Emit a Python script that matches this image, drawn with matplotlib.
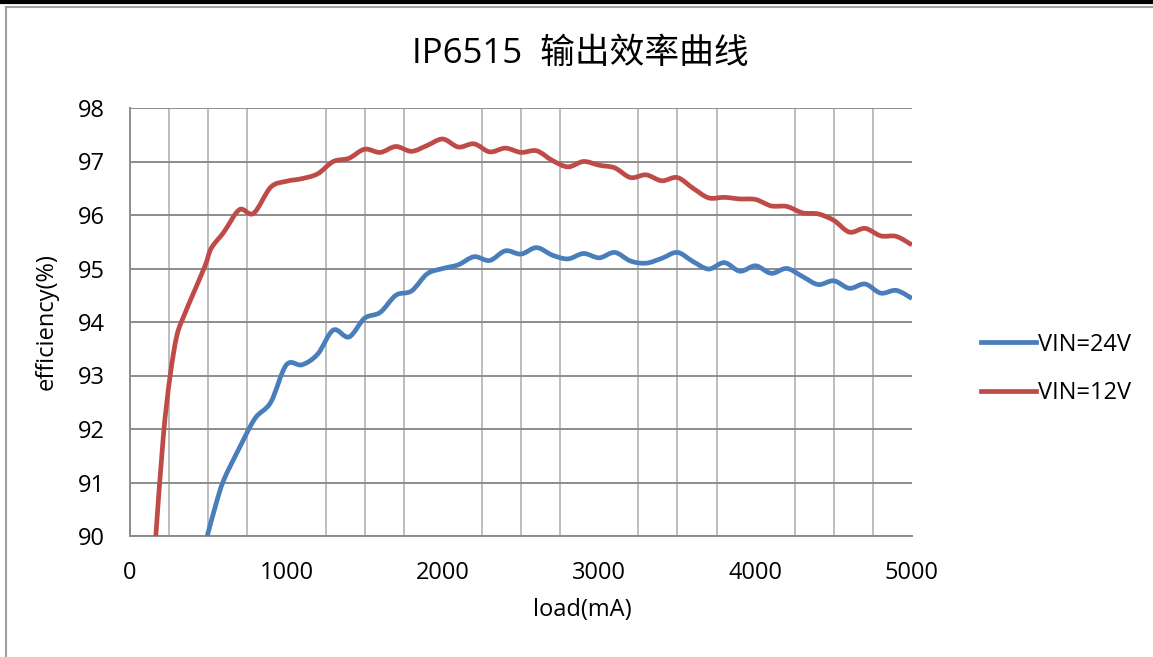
import numpy as np
import matplotlib
matplotlib.use('Agg')
import matplotlib.pyplot as plt
from matplotlib.path import Path
from matplotlib.patches import PathPatch
from matplotlib.lines import Line2D

plt.rcParams['font.family'] = ['Open Sans', 'Noto Sans CJK SC', 'DejaVu Sans']

# VIN=12V curve
load_12v = [165, 213, 256, 300, 350, 400, 480, 520, 600, 700, 790, 900, 1000,
            1100, 1200, 1300, 1400, 1500, 1600, 1700, 1800, 1900, 2000, 2100,
            2200, 2300, 2400, 2500, 2600, 2700, 2800, 2900, 3000, 3100, 3200,
            3300, 3400, 3500, 3600, 3700, 3800, 3900, 4000, 4100, 4200, 4300,
            4400, 4500, 4600, 4700, 4800, 4900, 5000]
eff_12v = [90.0, 91.86, 92.98, 93.75, 94.15, 94.5, 95.05, 95.38, 95.68, 96.1,
           96.03, 96.52, 96.63, 96.68, 96.77, 97.0, 97.06, 97.23, 97.17, 97.28,
           97.19, 97.3, 97.42, 97.27, 97.33, 97.18, 97.25, 97.17, 97.2, 97.02,
           96.9, 97.0, 96.93, 96.88, 96.7, 96.75, 96.64, 96.7, 96.5, 96.32,
           96.33, 96.3, 96.29, 96.17, 96.16, 96.04, 96.02, 95.9, 95.68, 95.75,
           95.61, 95.6, 95.44]

# VIN=24V curve
load_24v = [494, 550, 600, 700, 800, 900, 1000, 1100, 1200, 1300, 1400, 1500,
            1600, 1700, 1800, 1900, 2000, 2100, 2200, 2300, 2400, 2500, 2600,
            2700, 2800, 2900, 3000, 3100, 3200, 3300, 3400, 3500, 3600, 3700,
            3800, 3900, 4000, 4100, 4200, 4300, 4400, 4500, 4600, 4700, 4800,
            4900, 5000]
eff_24v = [90.0, 90.6, 91.05, 91.65, 92.2, 92.5, 93.2, 93.2, 93.4, 93.85,
           93.72, 94.07, 94.18, 94.5, 94.58, 94.9, 95.0, 95.07, 95.22, 95.15,
           95.33, 95.27, 95.39, 95.25, 95.18, 95.28, 95.2, 95.3, 95.14, 95.1,
           95.19, 95.3, 95.13, 94.99, 95.11, 94.95, 95.05, 94.91, 95.0, 94.85,
           94.7, 94.77, 94.63, 94.71, 94.54, 94.59, 94.44]

x_ticks = [0, 1000, 2000, 3000, 4000, 5000]
y_ticks = [90, 91, 92, 93, 94, 95, 96, 97, 98]

BLUE = '#4a7ebb'
RED = '#be4b48'


def smooth_path(xs, ys):
    # Excel style "smoothed line": cubic bezier through the points
    p = np.column_stack([xs, ys]).astype(float)
    p = np.vstack([p[0], p, p[-1]])
    verts = [p[1]]
    codes = [Path.MOVETO]
    for i in range(1, len(p) - 2):
        c1 = p[i] + (p[i + 1] - p[i - 1]) / 6.
        c2 = p[i + 1] - (p[i + 2] - p[i]) / 6.
        verts += [c1, c2, p[i + 1]]
        codes += [Path.CURVE4] * 3
    return Path(verts, codes)


fig = plt.figure(figsize=(11.53, 6.57), dpi=100)
ax = fig.add_axes([130 / 1153, 1 - 536 / 657, (912 - 130) / 1153, (536 - 108) / 657])

ax.set_xlim(0, 5000)
ax.set_ylim(90, 98)
ax.set_xticks(x_ticks)
ax.set_yticks(y_ticks)
ax.set_xticks(np.arange(0, 5001, 250), minor=True)
ax.tick_params(which='both', length=0, labelsize=17, colors='black')
ax.tick_params(axis='x', pad=18)
ax.tick_params(axis='y', pad=18)
ax.grid(True, which='major', axis='y', color='#8c8c8c', lw=1.4)
ax.grid(True, which='minor', axis='x', color='#bdbdbd', lw=1.4)
ax.set_axisbelow(True)
for s in ['top', 'right']:
    ax.spines[s].set_visible(False)
for s in ['left', 'bottom']:
    ax.spines[s].set_color('#8c8c8c')
    ax.spines[s].set_linewidth(1.4)

for xs, ys, c in [(load_24v, eff_24v, BLUE), (load_12v, eff_12v, RED)]:
    ax.add_patch(PathPatch(smooth_path(xs, ys), fc='none', ec=c, lw=3.4,
                           capstyle='butt', joinstyle='round', zorder=3))

ax.set_xlabel('load(mA)', fontsize=17, va='center')
ax.xaxis.set_label_coords((582 - 130) / 782, (536 - 610) / 428)
ax.set_ylabel('efficiency(%)', fontsize=17, va='center')
ax.yaxis.set_label_coords((47 - 130) / 782, (536 - 322) / 428)
fig.text(0.503, 1 - 54 / 657, 'IP6515  输出效率曲线', fontsize=25,
         ha='center', va='center')

handles = [Line2D([], [], color=BLUE, lw=3.4), Line2D([], [], color=RED, lw=3.4)]
fig.legend(handles, ['VIN=24V', 'VIN=12V'], loc='center left',
           bbox_to_anchor=(960 / 1153, 1 - 369 / 657), frameon=False,
           fontsize=17, handlelength=2.3, handletextpad=0.1, labelspacing=1.05)

# chart frame like the spreadsheet screenshot
fig.add_artist(Line2D([0, 1], [1 - 1.5 / 657, 1 - 1.5 / 657], color='black', lw=3))
fig.add_artist(Line2D([0.005, 1], [1 - 7 / 657, 1 - 7 / 657], color='#a0a0a0', lw=1.5))
fig.add_artist(Line2D([5.5 / 1153, 5.5 / 1153], [0, 1 - 7 / 657], color='#a0a0a0', lw=1.5))

fig.savefig('out.png', dpi=100)
